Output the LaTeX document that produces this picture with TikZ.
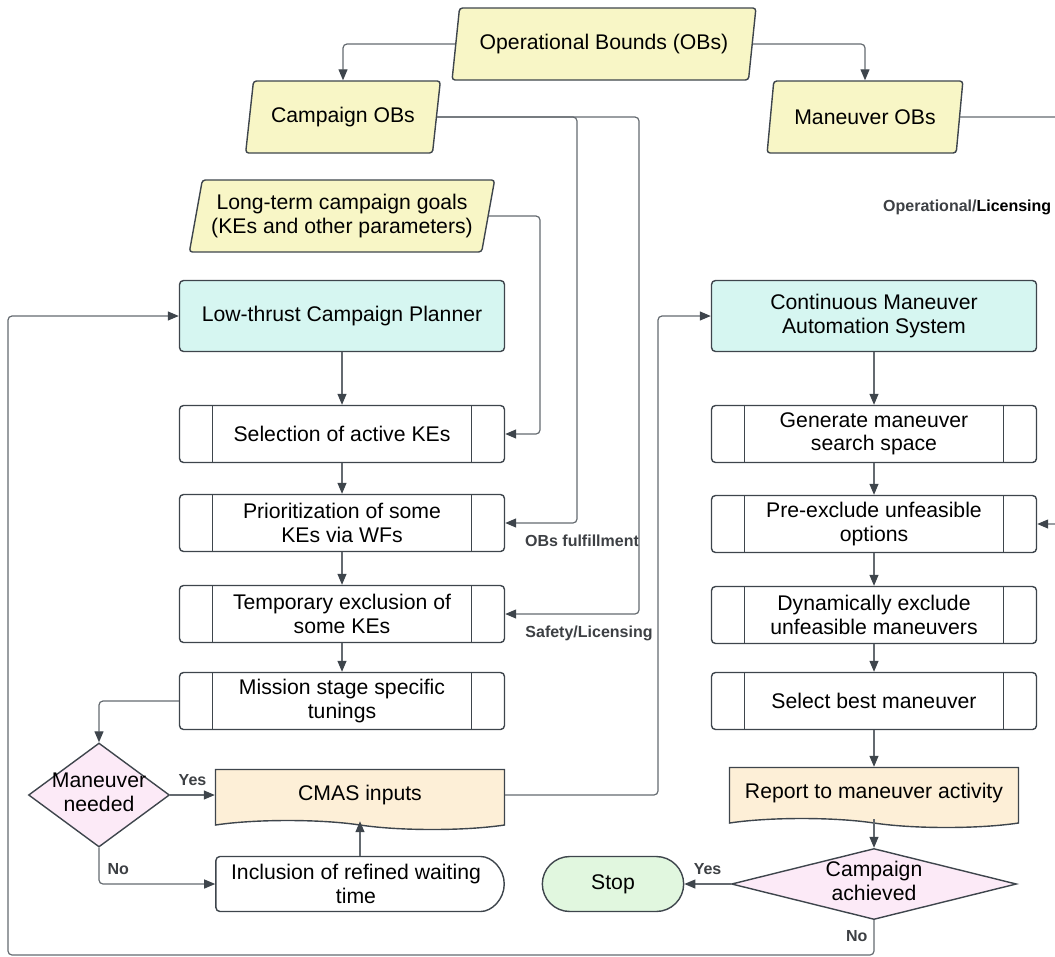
\documentclass[tikz,border=0pt]{standalone}
\usepackage{fontspec}
\setmainfont{Liberation Sans}
\usetikzlibrary{arrows.meta,shapes.geometric,shapes.misc,shapes.symbols}
\definecolor{obfill}{HTML}{F8F6C6}
\definecolor{planfill}{HTML}{D6F6F1}
\definecolor{docfill}{HTML}{FDEFD7}
\definecolor{askfill}{HTML}{FCEAF7}
\definecolor{stopfill}{HTML}{E1F7DF}
\definecolor{edgeline}{HTML}{3E454C}
\definecolor{wire}{HTML}{646a70}
\definecolor{lbltext}{HTML}{3D4044}
\newcommand{\slimtext}[1]{\makebox[0pt]{\begin{tabular}{@{}c@{}}#1\end{tabular}}}

\begin{document}
\begin{tikzpicture}[x=1pt,y=-1pt,
  box/.style={draw=edgeline,line width=1.4pt,align=center,font=\fontsize{21.2}{23.5}\selectfont},
  obs/.style={box,trapezium,trapezium left angle=76,trapezium right angle=104,trapezium stretches=true,
    rounded corners=3pt,fill=obfill,minimum height=72pt},
  planner/.style={box,rectangle,rounded corners=4pt,fill=planfill,minimum width=325pt,minimum height=71pt},
  proc/.style={box,rectangle,rounded corners=4pt,fill=white,minimum width=325pt,minimum height=57pt,
    path picture={\draw[edgeline,line width=1.4pt]
      ([xshift=33pt]path picture bounding box.north west) -- ([xshift=33pt]path picture bounding box.south west)
      ([xshift=-33pt]path picture bounding box.north east) -- ([xshift=-33pt]path picture bounding box.south east);}},
  docbox/.style={box,tape,tape bend top=none,tape bend bottom=out and in,tape bend height=9pt,fill=docfill,
    minimum width=289pt,minimum height=60pt},
  decision/.style={box,diamond,fill=askfill,inner sep=0pt},
  stopbox/.style={box,rounded rectangle,fill=stopfill,minimum width=148pt,minimum height=55pt},
  waitbox/.style={box,rounded rectangle,rounded rectangle left arc=none,rounded corners=4pt,fill=white,
    minimum width=295pt,minimum height=55pt},
  arrow/.style={-{Triangle[length=11pt,width=9pt,color=edgeline]},draw=wire,line width=1.2pt,rounded corners=4pt},
  lbl/.style={font=\bfseries\fontsize{16}{19}\selectfont,text=lbltext,inner sep=0pt}
]
\useasboundingbox (0,0) rectangle (1055,956);
\clip (0,0) rectangle (1055,956);
% bounds
\node[obs,minimum width=304pt] (ob) at (604,44) {Operational Bounds (OBs)};
\node[obs,minimum width=195pt] (cob) at (343,117) {Campaign OBs};
\node[obs,minimum width=196pt] (mob) at (865,117) {Maneuver OBs};
\node[obs,minimum width=306pt] (goals) at (342,216) {Long-term campaign goals\\(KEs and other parameters)};
% campaign planner column
\node[planner] (ltcp) at (342,316) {Low-thrust Campaign Planner};
\node[proc] (sel) at (342,434) {Selection of active KEs};
\node[proc] (prio) at (342,523) {Prioritization of some\\KEs via WFs};
\node[proc] (temp) at (342,614) {Temporary exclusion of\\some KEs};
\node[proc] (tune) at (342,701) {Mission stage specific\\tunings};
\node[decision,minimum width=141pt,minimum height=104pt] (need) at (99,795) {\slimtext{Maneuver\\needed}};
\node[docbox] (cmas) at (360,795) {CMAS inputs};
\node[waitbox] (wait) at (356,884) {Inclusion of refined waiting\\time};
% automation column
\node[planner] (cmass) at (874,316) {Continuous Maneuver\\Automation System};
\node[proc] (gen) at (874,434) {Generate maneuver\\search space};
\node[proc] (pre) at (874,524) {Pre-exclude unfeasible\\options};
\node[proc] (dyn) at (874,615) {Dynamically exclude\\unfeasible maneuvers};
\node[proc] (best) at (874,701) {Select best maneuver};
\node[docbox] (rep) at (874,793) {Report to maneuver activity};
\node[decision,minimum width=285pt,minimum height=71pt] (done) at (874,884) {\slimtext{Campaign\\achieved}};
\node[stopbox] (stop) at (613,884) {Stop};
\node[lbl,anchor=west] (oplic) at (883,207) {Operational/\textcolor{black}{Licensing}};
% connectors
\draw[arrow] (ob.west) -| (cob.north);
\draw[arrow] (ob.east) -| (mob.north);
\draw[arrow] (cob.east) -| (577,523) node[lbl,anchor=north,xshift=5pt,yshift=-11pt] (fulfil) {OBs fulfillment} -- (prio.east);
\draw[arrow] (cob.east) -| (639,614) node[lbl,anchor=north,xshift=-50pt,yshift=-11pt] (safety) {Safety/Licensing} -- (temp.east);
\draw[arrow] (goals.east) -| (540,434) -- (sel.east);
\draw[arrow] (mob.east) -| (1080,524) -- (pre.east);
\draw[arrow] (ltcp) -- (sel);
\draw[arrow] (sel) -- (prio);
\draw[arrow] (prio) -- (temp);
\draw[arrow] (temp) -- (tune);
\draw[arrow] (tune.west) -| (need.north);
\draw[arrow] (need.east) -- node[lbl,above=9pt] {Yes} (cmas.west);
\draw[arrow] (need.south) |- node[lbl,pos=0.3,right=8pt] {No} (wait.west);
\draw[arrow] (wait.north -| cmas.south) -- (cmas.south);
\draw[arrow] (cmas.east) -| (658,316) -- (cmass.west);
\draw[arrow] (cmass) -- (gen);
\draw[arrow] (gen) -- (pre);
\draw[arrow] (pre) -- (dyn);
\draw[arrow] (dyn) -- (best);
\draw[arrow] (best) -- (rep);
\draw[arrow] (rep.south) -- (done.north);
\draw[arrow] (done.west) -- node[lbl,above=9pt] {Yes} (stop.east);
\draw[arrow] (done.south) -- node[lbl,pos=0.45,left=6pt] {No} (874,955) -| (8,316) -- (ltcp.west);
\end{tikzpicture}
\end{document}
